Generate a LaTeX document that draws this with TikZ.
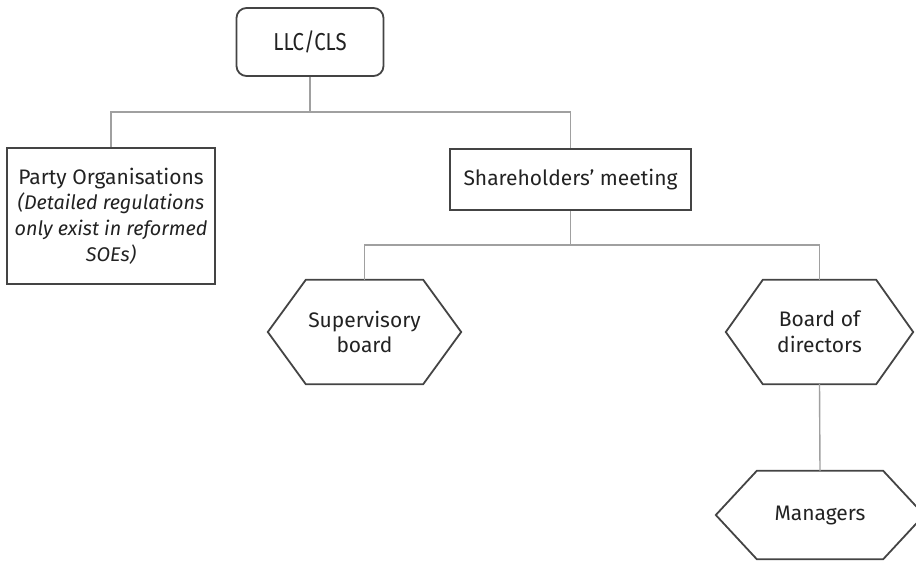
\documentclass[tikz,border=0pt]{standalone}
\usepackage{fontspec}
\setmainfont{Fira Sans}
\newfontfamily\narrowfont{Fira Sans}[FakeStretch=0.83]
\definecolor{edgecol}{HTML}{444444}
\definecolor{conncol}{HTML}{A0A0A0}
\definecolor{txtcol}{HTML}{222222}
\newcommand\hexoutline[2]{\draw[shapeline] (#1.north west) -- (#1.north east) -- ([xshift=#2]#1.east) -- (#1.south east) -- (#1.south west) -- ([xshift=-#2]#1.west) -- cycle;}
\newcommand\smallit[1]{{\fontsize{19.8}{25.6}\selectfont\itshape #1}}
\begin{document}
\begin{tikzpicture}[x=1pt,y=-1pt,
  shapeline/.style={draw=edgecol, line width=1.8pt, line join=miter},
  conn/.style={draw=conncol, line width=1.4pt},
  txt/.style={text=txtcol, align=center, inner sep=0pt, font=\fontsize{21}{25.6}\selectfont},
  boxnode/.style={txt, shapeline, minimum width=#1},
  hexnode/.style={txt, draw=none}
]
\useasboundingbox (0,0) rectangle (916,560);

\node[boxnode=147pt, minimum height=68pt, rounded corners=10pt, font=\narrowfont\fontsize{24.5}{28}\selectfont] (llc) at (310,42) {LLC/CLS};
\node[boxnode=208pt, minimum height=136pt] (party) at (111,216)
  {Party Organisations\\ \smallit{(Detailed regulations}\\ \smallit{only exist in reformed}\\ \smallit{SOEs)}};
\node[boxnode=241pt, minimum height=61pt] (share) at (570.5,179.5) {Shareholders’ meeting};

\node[hexnode, minimum width=117pt, minimum height=104pt] (sup) at (364.5,332) {Supervisory\\ board};
\node[hexnode, minimum width=113pt, minimum height=104pt] (bod) at (819.5,332) {Board of\\ directors};
\node[hexnode, minimum width=126pt, minimum height=88pt] (man) at (820,515) {Managers};

\hexoutline{sup}{38pt}
\hexoutline{bod}{37pt}
\hexoutline{man}{41pt}

\coordinate (j1) at (310,112);
\coordinate (j2) at (570.5,245);

\draw[conn] (llc.south) -- (j1);
\draw[conn] (party.north) |- (j1) -| (share.north);
\draw[conn] (share.south) -- (j2);
\draw[conn] (sup.north) |- (j2) -| (bod.north);
\draw[conn] (bod.south) -- (man.north);
\end{tikzpicture}
\end{document}
